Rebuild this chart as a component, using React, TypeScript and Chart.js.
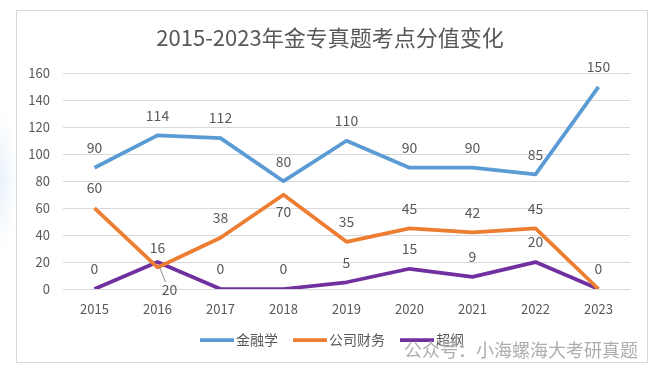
import React, { useEffect, useRef } from 'react';
import { Chart, registerables } from 'chart.js';

Chart.register(...registerables);

const titleText = '2015-2023年金专真题考点分值变化';
const watermarkText = '公众号：小海螺海大考研真题';
const years = ['2015', '2016', '2017', '2018', '2019', '2020', '2021', '2022', '2023'];
const seriesNames = ['金融学', '公司财务', '超纲'];
const financeValues = [90, 114, 112, 80, 110, 90, 90, 85, 150];
const corporateValues = [60, 16, 38, 70, 35, 45, 42, 45, 0];
const beyondValues = [0, 20, 0, 0, 5, 15, 9, 20, 0];
const yMin = 0;
const yMax = 160;
const yStep = 20;

const FONT = '"Noto Sans CJK SC", "Noto Sans", sans-serif';
const TEXT_COLOR = '#595959';
const seriesColors = ['#5B9BD5', '#ED7D31', '#7030A0'];

// label placement (style only): key "datasetIndex-pointIndex"
const labelPlacement: Record<string, { dx: number; dy: number; leader?: boolean; hide?: boolean }> = {
  '1-3': { dx: 0, dy: 17 },
  '1-8': { dx: 0, dy: -20, hide: true },
  '2-1': { dx: 12, dy: 28, leader: true },
};

const framePlugin = {
  id: 'frame',
  beforeDraw(chart: any) {
    const ctx = chart.ctx;
    ctx.save();
    ctx.fillStyle = '#ffffff';
    ctx.fillRect(0, 0, chart.width, chart.height);
    ctx.strokeStyle = '#d9d9d9';
    ctx.lineWidth = 1;
    ctx.strokeRect(16.5, 10.5, 631, 352);
    ctx.restore();
  },
};

const dataLabelPlugin = {
  id: 'dataLabels',
  afterDatasetsDraw(chart: any) {
    const ctx = chart.ctx;
    ctx.save();
    ctx.font = `14px ${FONT}`;
    ctx.fillStyle = TEXT_COLOR;
    ctx.textAlign = 'center';
    ctx.textBaseline = 'middle';
    chart.data.datasets.forEach((ds: any, di: number) => {
      const meta = chart.getDatasetMeta(di);
      meta.data.forEach((pt: any, i: number) => {
        const p = labelPlacement[`${di}-${i}`] || { dx: 0, dy: -20 };
        if (p.hide) return;
        const x = pt.x + p.dx;
        const y = pt.y + p.dy;
        if (p.leader) {
          ctx.strokeStyle = '#8c8c8c';
          ctx.lineWidth = 1;
          ctx.beginPath();
          ctx.moveTo(pt.x + 2, pt.y + 5);
          ctx.lineTo(x - 4, y - 8);
          ctx.stroke();
        }
        ctx.fillText(String(ds.data[i]), x, y);
      });
    });
    ctx.restore();
  },
};

// custom legend: line sample directly followed by its text
const legendPlugin = {
  id: 'lineLegend',
  afterDraw(chart: any) {
    const ctx = chart.ctx;
    const lineLen = 34;
    const textGap = 2;
    const itemGap = 15;
    const centerX = 332;
    const centerY = 340;
    ctx.save();
    ctx.font = `14px ${FONT}`;
    const items = chart.data.datasets.map((ds: any) => ({
      text: ds.label,
      color: ds.borderColor,
      width: lineLen + textGap + ctx.measureText(ds.label).width,
    }));
    const total = items.reduce((a: number, it: any) => a + it.width, 0) + itemGap * (items.length - 1);
    let x = centerX - total / 2;
    ctx.textAlign = 'left';
    ctx.textBaseline = 'middle';
    items.forEach((it: any) => {
      ctx.strokeStyle = it.color;
      ctx.lineWidth = 3.75;
      ctx.lineCap = 'butt';
      ctx.beginPath();
      ctx.moveTo(x, centerY);
      ctx.lineTo(x + lineLen, centerY);
      ctx.stroke();
      ctx.fillStyle = TEXT_COLOR;
      ctx.fillText(it.text, x + lineLen + textGap, centerY);
      x += it.width + itemGap;
    });
    ctx.restore();
  },
};

export default function App() {
  const canvasRef = useRef<HTMLCanvasElement | null>(null);

  useEffect(() => {
    if (!canvasRef.current) return;
    Chart.defaults.font.family = FONT;
    const values = [financeValues, corporateValues, beyondValues];
    const chart = new Chart(canvasRef.current, {
      type: 'line',
      data: {
        labels: years,
        datasets: seriesNames.map((name, i) => ({
          label: name,
          data: values[i],
          borderColor: seriesColors[i],
          backgroundColor: seriesColors[i],
          borderWidth: 3.75,
          pointRadius: 0,
          pointHoverRadius: 0,
          tension: 0,
          fill: false,
          borderJoinStyle: 'round' as const,
          borderCapStyle: 'butt' as const,
        })),
      },
      options: {
        responsive: false,
        animation: false,
        events: [],
        layout: { padding: { top: 10, left: 16, right: 16, bottom: 55 } },
        plugins: {
          title: {
            display: true,
            text: titleText,
            color: TEXT_COLOR,
            font: { size: 22, weight: 'normal', family: FONT, lineHeight: 1.2 },
            padding: { top: 14, bottom: 23 },
          },
          legend: { display: false },
          tooltip: { enabled: false },
        },
        scales: {
          x: {
            type: 'category',
            offset: true,
            grid: { display: false, drawTicks: false },
            border: { display: false },
            ticks: { color: TEXT_COLOR, font: { size: 13, family: FONT }, padding: 12, maxRotation: 0 },
            afterFit: (s: any) => { s.height = 28; },
          },
          y: {
            type: 'linear',
            position: 'left',
            min: yMin,
            max: yMax,
            grid: { color: '#d9d9d9', lineWidth: 1, drawTicks: false },
            border: { display: false },
            ticks: { stepSize: yStep, color: TEXT_COLOR, font: { size: 13, family: FONT }, padding: 13 },
            afterFit: (s: any) => { s.width = 47; },
          },
          yR: {
            type: 'linear',
            position: 'right',
            display: true,
            grid: { display: false, drawTicks: false },
            border: { display: false },
            ticks: { display: false },
            afterFit: (s: any) => { s.width = 14; },
          },
        },
      } as any,
      plugins: [framePlugin, dataLabelPlugin, legendPlugin],
    });
    return () => chart.destroy();
  }, []);

  return (
    <div style={{ position: 'absolute', left: 0, top: 0, width: 660, height: 372, background: '#fff', overflow: 'hidden' }}>
      <canvas ref={canvasRef} width={660} height={372} style={{ position: 'absolute', left: 0, top: 0, width: 660, height: 372 }} />
      <div
        style={{
          position: 'absolute',
          left: 0,
          top: 110,
          width: 18,
          height: 140,
          background: 'radial-gradient(ellipse at left center, rgba(215,230,246,0.55), rgba(255,255,255,0) 70%)',
          pointerEvents: 'none',
        }}
      />
      <div
        style={{
          position: 'absolute',
          left: 404,
          top: 337,
          fontFamily: FONT,
          fontSize: 18,
          lineHeight: '24px',
          color: 'rgba(160,160,160,0.85)',
          textShadow: '0 0 2px #ffffff',
          whiteSpace: 'nowrap',
          pointerEvents: 'none',
        }}
      >
        {watermarkText}
      </div>
    </div>
  );
}
